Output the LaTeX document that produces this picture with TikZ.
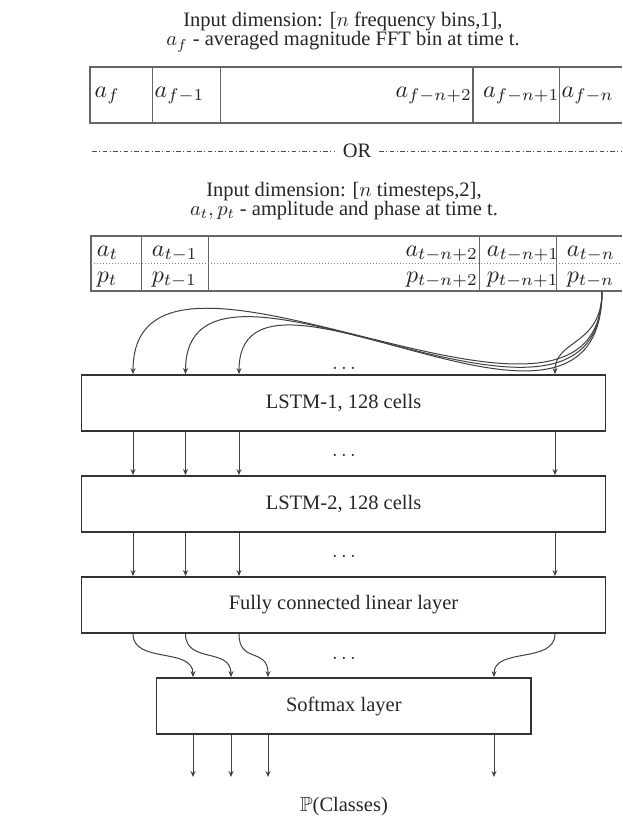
\RequirePackage{fix-cm}
\documentclass[tikz,border=0pt]{standalone}
\usepackage{amssymb}
\usepackage{graphicx}
\usepackage[no-math]{fontspec}
\setmainfont{Liberation Serif}
\usetikzlibrary{arrows.meta,calc}
\newcommand\mth[2]{\scalebox{#1}{\fontsize{10}{12}\selectfont$#2$}}
\newcommand\cel[1]{\mth{2.4}{#1}}
\newcommand\txm[1]{\mth{2.05}{#1}}
\begin{document}
\begin{tikzpicture}[x=1pt,y=-1pt,
  every node/.style={text=black!85, font=\fontsize{20.5}{24}\selectfont},
  box/.style={draw=black!80, line width=1.8pt, minimum height=56, inner sep=0},
  arr/.style={draw=black!75, line width=1pt, -{Stealth[length=6pt,width=5pt]}},
  tab/.style={draw=black!60, line width=1.3pt},
  cell/.style={inner sep=0},
  dotsn/.style={anchor=base, inner sep=0},
  dashdotline/.style={draw=black!70, line width=1pt, dash pattern=on 4.5pt off 2.5pt on 1pt off 2.5pt}]
\useasboundingbox (0,0) rectangle (622,816);
\fill[white] (0,0) rectangle (622,816);

% ---- first input description ----
\node[anchor=base] (t1a) at (343,27) {Input dimension: [\txm{n} frequency bins,1],};
\node[anchor=base] (t1b) at (343,46) {\txm{a_f} - averaged magnitude FFT bin at time t.};

\draw[tab] (622,67) -| (90,123) -- (622,123);
\foreach \x in {152.3,220.5,473,559.5} \draw[tab] (\x,67) -- (\x,123);
\node[cell,anchor=base west] (f0) at (94.5,97) {\cel{a_f}};
\node[cell,anchor=base west] (f1) at (154.5,97) {\cel{a_{f-1}}};
\node[cell,anchor=base east] (f2) at (472,97) {\cel{a_{f-n+2}}};
\node[cell,anchor=base west] (f3) at (483,97) {\cel{a_{f-n+1}}};
\node[cell,anchor=base west] (f4) at (561.5,97) {\cel{a_{f-n}}};

% ---- OR separator ----
\node[inner sep=8pt] (or) at (357,151) {OR};
\draw[dashdotline] (92,151) -- (or.west);
\draw[dashdotline] (or.east) -- (622,151);

% ---- second input description ----
\node[anchor=base] (t2a) at (344,196) {Input dimension: [\txm{n} timesteps,2],};
\node[anchor=base] (t2b) at (344,215) {\txm{a_t, p_t} - amplitude and phase at time t.};

\draw[tab] (622,236) -| (91,291) -- (622,291);
\foreach \x in {141.7,208.3,479.3,556.7} \draw[tab] (\x,236) -- (\x,291);
\draw[black!50, line width=1pt, dotted] (91,263.5) -- (622,263.5);
\node[cell,anchor=base west] (a0) at (96.7,256) {\cel{a_t}};
\node[cell,anchor=base west] (a1) at (151.7,256) {\cel{a_{t-1}}};
\node[cell,anchor=base east] (a2) at (478,256) {\cel{a_{t-n+2}}};
\node[cell,anchor=base west] (a3) at (486.7,256) {\cel{a_{t-n+1}}};
\node[cell,anchor=base west] (a4) at (566.7,256) {\cel{a_{t-n}}};
\node[cell,anchor=base west] (p0) at (96.7,282) {\cel{p_t}};
\node[cell,anchor=base west] (p1) at (151.7,282) {\cel{p_{t-1}}};
\node[cell,anchor=base east] (p2) at (478,282) {\cel{p_{t-n+2}}};
\node[cell,anchor=base west] (p3) at (486.7,282) {\cel{p_{t-n+1}}};
\node[cell,anchor=base west] (p4) at (566.7,282) {\cel{p_{t-n}}};
\coordinate (src) at (602,291);

% ---- layers ----
\node[box, minimum width=524] (l1) at (343.5,403) {LSTM-1, 128 cells};
\node[box, minimum width=524] (l2) at (343.5,504) {LSTM-2, 128 cells};
\node[box, minimum width=524] (fc) at (343.5,605) {Fully connected linear layer};
\node[box, minimum width=374.5] (sm) at (343.8,706) {Softmax layer};

\coordinate (c1) at (133,0);
\coordinate (c2) at (185.5,0);
\coordinate (c3) at (239,0);
\coordinate (c4) at (555,0);
\coordinate (s1) at (193,0);
\coordinate (s2) at (231,0);
\coordinate (s3) at (268,0);
\coordinate (s4) at (494,0);

\foreach \i in {1,2,3,4} {
  \coordinate (in\i) at (l1.north -| c\i);
  \coordinate (fo\i) at (fc.south -| c\i);
  \coordinate (si\i) at (sm.north -| s\i);
  \coordinate (so\i) at (sm.south -| s\i);
  \coordinate (o\i) at (s\i |- 0,777);
}

% input curves
\foreach \i/\h in {1/190,2/170,3/150}
  \draw[arr] (src) .. controls ($(src)+(0,205)$) and ($(in\i)+(0,-\h)$) .. (in\i);
\draw[arr] (src) .. controls ($(src)+(0,55)$) and ($(in4)+(0,-35)$) .. (in4);

% straight arrows between LSTM layers
\foreach \i in {1,2,3,4} {
  \draw[arr] (l1.south -| c\i) -- (l2.north -| c\i);
  \draw[arr] (l2.south -| c\i) -- (fc.north -| c\i);
}

% FC -> softmax
\foreach \i in {1,2,3,4}
  \draw[arr] (fo\i) .. controls ($(fo\i)+(0,30)$) and ($(si\i)+(0,-30)$) .. (si\i);

% outputs
\foreach \i in {1,2,3,4}
  \draw[arr] (so\i) -- (o\i);

% dots
\node[dotsn] (d0) at (344,369) {\txm{\dots}};
\node[dotsn] (d1) at (344,456) {\txm{\dots}};
\node[dotsn] (d2) at (344,557.5) {\txm{\dots}};
\node[dotsn] (d3) at (344,659) {\txm{\dots}};

\node[anchor=base] (pc) at (344,811) {\txm{\mathbb{P}}(Classes)};
\end{tikzpicture}
\end{document}
